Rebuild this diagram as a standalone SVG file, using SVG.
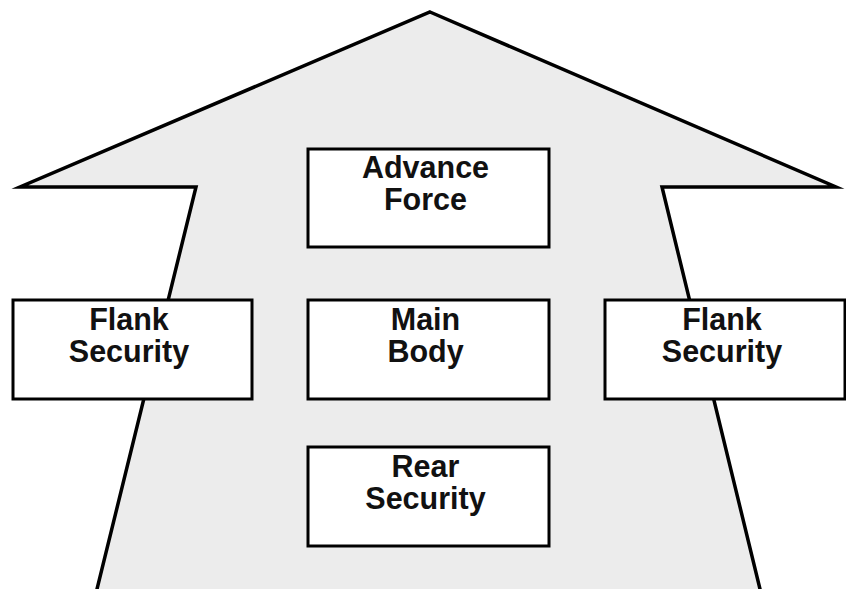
<svg xmlns="http://www.w3.org/2000/svg" width="846" height="589" viewBox="0 0 846 589">
  <style>
    .arrow { fill: #ececec; stroke: #000; stroke-width: 3.5; stroke-linejoin: miter; stroke-miterlimit: 20; }
    .box { fill: #fff; stroke: #000; stroke-width: 3; }
    .label { font-family: "Liberation Sans", Arial, sans-serif; font-weight: bold; font-size: 30.5px; fill: #111; text-anchor: middle; }
  </style>
  <rect width="846" height="589" fill="#fff"/>

  <!-- Large upward arrow showing direction of movement -->
  <polygon class="arrow" points="430,12 836,187 662,187 761.7,596 95.3,596 196,187 20,187"/>

  <g id="advance-force">
    <rect class="box" x="308" y="149" width="241" height="98"/>
    <text class="label" x="425.5" y="178">Advance</text>
    <text class="label" x="425.5" y="210">Force</text>
  </g>

  <g id="flank-security-left">
    <rect class="box" x="13" y="300" width="239" height="99"/>
    <text class="label" x="129" y="330">Flank</text>
    <text class="label" x="129" y="362">Security</text>
  </g>

  <g id="main-body">
    <rect class="box" x="308" y="300" width="241" height="99"/>
    <text class="label" x="425.5" y="330">Main</text>
    <text class="label" x="425.5" y="362">Body</text>
  </g>

  <g id="flank-security-right">
    <rect class="box" x="605" y="300" width="240" height="99"/>
    <text class="label" x="722" y="330">Flank</text>
    <text class="label" x="722" y="362">Security</text>
  </g>

  <g id="rear-security">
    <rect class="box" x="308" y="447" width="241" height="99"/>
    <text class="label" x="425.5" y="477">Rear</text>
    <text class="label" x="425.5" y="509">Security</text>
  </g>
</svg>
